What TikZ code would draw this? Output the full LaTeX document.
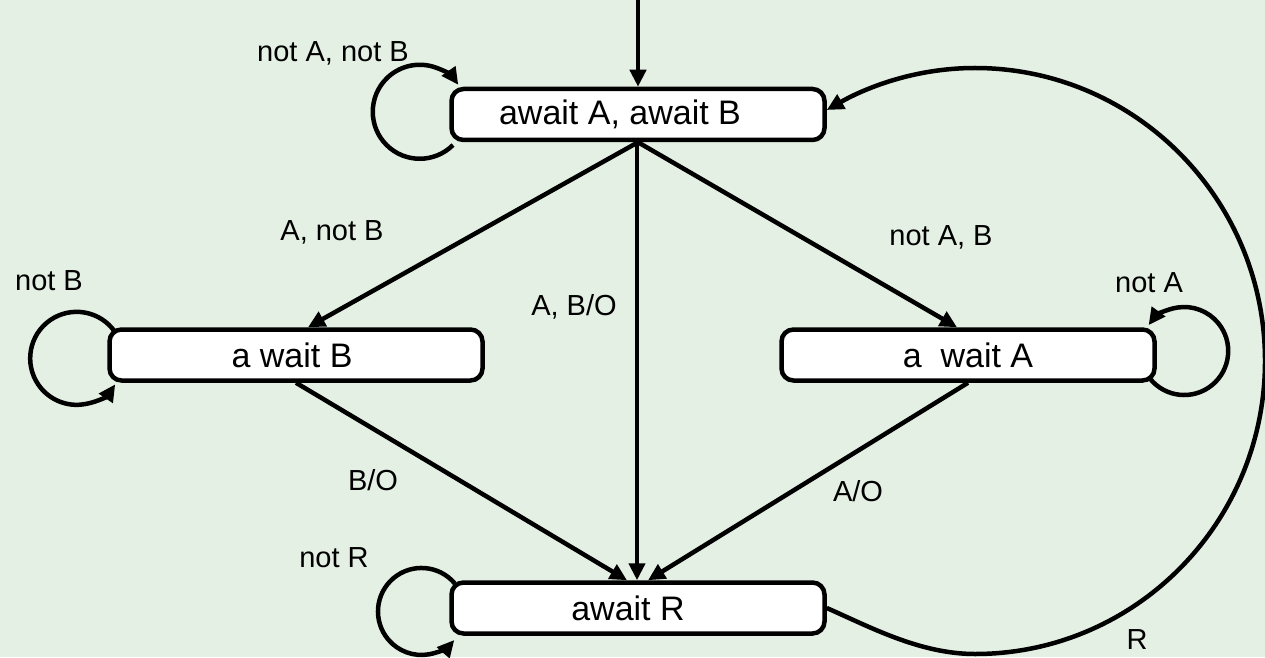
\documentclass[tikz,border=0pt]{standalone}
\usepackage{fontspec}
\setmainfont{Liberation Sans}
\usetikzlibrary{arrows.meta}
\definecolor{bg}{RGB}{228,240,227}
\tikzset{
  state/.style={draw=black, fill=white, line width=4.5pt, rounded corners=12pt,
    minimum width=373pt, minimum height=51pt, inner sep=0pt,
    font=\fontsize{34}{38}\selectfont},
  lbl/.style={inner sep=0pt, font=\fontsize{29}{33}\selectfont},
  edge/.style={line width=4.5pt, -{Triangle[length=17pt,width=16pt]}},
}
\begin{document}
\begin{tikzpicture}[x=1pt,y=1pt]
\fill[bg] (0,0) rectangle (1265,657);
\useasboundingbox (0,0) rectangle (1265,657);

\node[state] (top) at (638,542.5) {await A, await B\hspace*{36pt}};
\node[state] (aB) at (296,302) {a wait B\hspace*{8pt}};
\node[state] (aA) at (968,302) {a\ \ wait A};
\node[state] (R) at (638,49) {await R\hspace*{20pt}};

\coordinate (init) at (638,657);
\draw[edge] (init) -- (top.north);

\draw[edge] (top.south) -- ([xshift=12]aB.north);
\draw[edge] (top.south) -- ([xshift=-11]aA.north);
\draw[edge] ([xshift=-1]top.south) -- ([xshift=-1]R.north);
\draw[edge] (aB.south) -- ([xshift=-11]R.north);
\draw[edge] (aA.south) -- ([xshift=10]R.north);

% self loops
\draw[edge] ([shift={(-185,-30.5)}]top.center) arc[start angle=-45, end angle=-325, radius=47];
\draw[edge] ([shift={(-181,23)}]aB.center) arc[start angle=34.5, end angle=326, radius=46.5];
\draw[edge] ([shift={(182,-23.7)}]aA.center) arc[start angle=219, end angle=504, radius=44];
\draw[edge] ([shift={(-183.2,24.5)}]R.center) arc[start angle=40, end angle=319, radius=43.5];

% R back to top
\draw[edge] (R.east) .. controls (870,30) and (920,3) .. (975,3)
  .. controls (1135,3) and (1265,134) .. (1265,296)
  .. controls (1265,458) and (1135,589) .. (975,589)
  .. controls (910,589) and (860,566) .. ([yshift=4.5]top.east);

% labels
\node[lbl] (l1) at (333,604) {not A, not B};
\node[lbl] (l2) at (332,425) {A, not B};
\node[lbl] (l3) at (574,350) {A, B/O};
\node[lbl] (l4) at (941,420) {not A, B};
\node[lbl] (l5) at (1149,374) {not A};
\node[lbl] (l6) at (49,376) {not B};
\node[lbl] (l7) at (373,177) {B/O};
\node[lbl] (l8) at (858,166) {A/O};
\node[lbl] (l9) at (334,99) {not R};
\node[lbl] (l10) at (1137,17) {R};
\end{tikzpicture}
\end{document}
